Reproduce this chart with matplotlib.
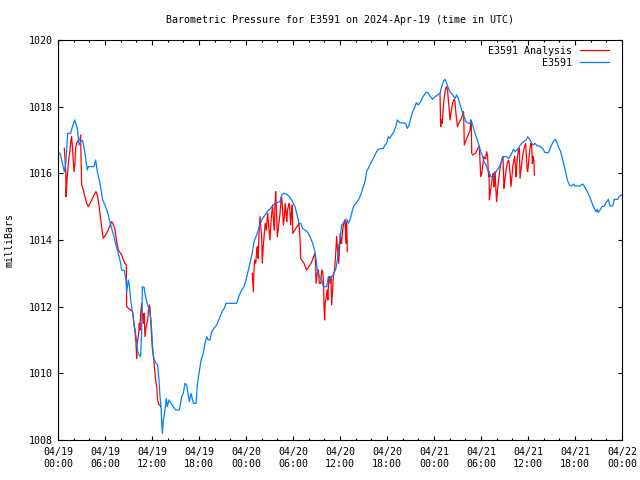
import numpy as np
import matplotlib
matplotlib.use("Agg")
import matplotlib.pyplot as plt
from matplotlib.ticker import MultipleLocator, FixedLocator

# ---------------- data (hours since 2024-04-19 00:00 UTC, millibars) ----------------
obs_hours = [0.0, 0.26, 0.51, 0.81, 1.02, 1.23, 1.6, 1.85, 2.13, 2.47, 2.68, 2.89, 3.15, 3.45, 3.74, 3.87,
             4.6, 4.81, 5.02, 5.36, 5.7, 6.0, 6.43, 6.72, 7.15, 7.4, 7.7, 8.0, 8.13, 8.47, 8.68, 8.77,
             8.98, 9.1, 9.28, 9.53, 9.74, 9.87, 10.04, 10.17, 10.38, 10.55, 10.68, 10.77, 10.98, 11.1,
             11.32, 11.53, 11.66, 11.87, 12.0, 12.17, 12.3, 12.51, 12.72, 12.89, 13.02, 13.15, 13.23,
             13.32, 13.45, 13.66, 13.83, 13.96, 14.17, 14.43, 14.72, 15.02, 15.49, 15.79, 16.0, 16.21,
             16.43, 16.64, 16.77, 16.98, 17.28, 17.62, 17.79, 18.0, 18.26, 18.55, 18.77, 18.98, 19.19,
             19.4, 19.62, 19.91, 20.26, 20.51, 20.77, 20.98, 21.23, 21.45, 22.81, 23.15, 23.45, 23.74,
             24.0, 24.3, 24.6, 24.86, 25.02, 25.36, 25.7, 26.0, 26.43, 26.85, 27.06, 27.28, 27.7, 28.34,
             28.55, 28.85, 29.19, 29.53, 29.83, 30.26, 30.47, 30.77, 30.98, 31.23, 31.53, 31.83, 32.17,
             32.51, 32.81, 32.94, 33.11, 33.36, 33.66, 33.87, 34.3, 34.51, 34.72, 34.94, 35.23, 35.49,
             35.66, 35.83, 36.09, 36.21, 36.43, 36.64, 36.85, 37.06, 37.28, 37.49, 37.7, 38.04, 38.34,
             38.64, 38.9, 39.19, 39.4, 39.62, 39.91, 40.26, 40.47, 40.77, 41.02, 41.53, 41.74, 41.96,
             42.17, 42.35, 42.6, 42.89, 43.11, 43.32, 43.62, 44.38, 44.6, 44.81, 45.02, 45.23, 45.57,
             45.74, 46.0, 46.3, 46.6, 46.98, 47.19, 47.49, 47.83, 48.13, 48.77, 48.98, 49.19, 49.4,
             49.62, 49.83, 50.04, 50.38, 50.68, 50.9, 51.1, 51.4, 51.74, 52.09, 52.38, 52.6, 52.72,
             52.94, 53.23, 53.53, 53.79, 53.96, 54.22, 54.38, 54.64, 54.85, 55.06, 55.28, 55.57, 55.79,
             56.08, 56.34, 56.64, 56.85, 57.28, 57.49, 57.7, 57.92, 58.13, 58.34, 58.64, 58.89, 59.19,
             59.49, 59.74, 59.96, 60.26, 60.47, 60.68, 60.89, 61.19, 61.45, 61.87, 62.17, 62.6, 62.91,
             63.15, 63.45, 63.66, 63.87, 64.17, 64.43, 64.64, 64.85, 65.02, 65.28, 65.58, 65.79, 66.0,
             66.64, 66.98, 67.28, 67.57, 67.83, 68.04, 68.26, 68.47, 68.68, 68.85, 68.94, 69.19, 69.45,
             69.74, 69.96, 70.26, 70.47, 70.81, 71.02, 71.45, 71.66, 72.0]
obs_pressure = [1016.6, 1016.6, 1016.35, 1016.05, 1016.35, 1017.2, 1017.2, 1017.4, 1017.6, 1017.35, 1016.85,
                1016.95, 1016.98, 1016.6, 1016.1, 1016.2, 1016.2, 1016.4, 1016.05, 1015.7, 1015.2, 1015.05,
                1014.75, 1014.45, 1014.1, 1013.85, 1013.6, 1013.3, 1013.1, 1013.08, 1012.8, 1012.45, 1012.8,
                1012.65, 1012.2, 1011.8, 1011.4, 1011.3, 1010.9, 1010.65, 1010.55, 1010.5, 1011.3, 1012.6,
                1012.58, 1012.4, 1012.15, 1012.0, 1011.9, 1011.6, 1011.1, 1010.5, 1010.4, 1010.3, 1010.25,
                1009.8, 1009.3, 1009.05, 1008.55, 1008.2, 1008.6, 1008.9, 1009.25, 1009.0, 1009.2, 1009.1,
                1009.0, 1008.9, 1008.9, 1009.3, 1009.4, 1009.7, 1009.65, 1009.35, 1009.15, 1009.4, 1009.1,
                1009.1, 1009.65, 1010.0, 1010.4, 1010.6, 1010.9, 1011.1, 1011.0, 1011.0, 1011.25, 1011.35,
                1011.45, 1011.6, 1011.75, 1011.87, 1011.95, 1012.1, 1012.1, 1012.35, 1012.5, 1012.6, 1012.8,
                1013.1, 1013.4, 1013.7, 1013.95, 1014.15, 1014.4, 1014.6, 1014.75, 1014.9, 1014.92, 1015.0,
                1015.1, 1015.15, 1015.35, 1015.4, 1015.37, 1015.3, 1015.2, 1015.0, 1014.8, 1014.5, 1014.5,
                1014.35, 1014.3, 1014.25, 1014.1, 1013.9, 1013.65, 1013.4, 1013.1, 1012.9, 1012.8, 1012.6,
                1012.6, 1012.9, 1012.8, 1012.9, 1013.0, 1013.15, 1013.4, 1013.8, 1014.2, 1014.45, 1014.5,
                1014.6, 1014.62, 1014.5, 1014.6, 1014.8, 1015.0, 1015.1, 1015.2, 1015.35, 1015.55, 1015.75,
                1016.05, 1016.15, 1016.3, 1016.45, 1016.55, 1016.7, 1016.73, 1016.75, 1016.85, 1016.9,
                1017.1, 1017.05, 1017.15, 1017.25, 1017.4, 1017.6, 1017.52, 1017.5, 1017.35, 1017.45,
                1017.65, 1017.82, 1018.0, 1018.12, 1018.05, 1018.15, 1018.3, 1018.43, 1018.43, 1018.32,
                1018.22, 1018.3, 1018.4, 1018.6, 1018.75, 1018.82, 1018.7, 1018.55, 1018.45, 1018.35,
                1018.25, 1018.35, 1018.25, 1018.0, 1017.75, 1017.55, 1017.5, 1017.5, 1017.6, 1017.45,
                1017.2, 1017.0, 1016.8, 1016.65, 1016.5, 1016.35, 1016.25, 1016.1, 1016.0, 1015.9, 1015.85,
                1016.0, 1016.1, 1016.2, 1016.35, 1016.5, 1016.5, 1016.45, 1016.5, 1016.6, 1016.72, 1016.65,
                1016.72, 1016.8, 1016.9, 1016.95, 1017.0, 1017.1, 1017.0, 1016.9, 1016.85, 1016.9, 1016.82,
                1016.82, 1016.75, 1016.62, 1016.62, 1016.8, 1016.92, 1017.02, 1016.95, 1016.8, 1016.65,
                1016.4, 1016.2, 1016.0, 1015.8, 1015.65, 1015.62, 1015.68, 1015.62, 1015.62, 1015.68,
                1015.58, 1015.45, 1015.32, 1015.2, 1015.05, 1014.95, 1014.85, 1014.92, 1014.82, 1014.9,
                1015.0, 1015.02, 1015.12, 1015.22, 1015.02, 1015.02, 1015.22, 1015.22, 1015.32, 1015.35]

# analysis series, three separate runs (NaN breaks the line between them)
ana_hours = [0.81, 1.0, 1.02, 1.15, 1.32, 1.53, 1.65, 1.74, 1.85, 2.04, 2.15, 2.25, 2.38, 2.6, 2.8, 2.89,
             2.94, 3.02, 3.23, 3.45, 3.66, 3.87, 4.3, 4.6, 4.85, 5.02, 5.2, 5.36, 5.57, 5.7, 5.79, 6.21,
             6.72, 6.85, 7.0, 7.28, 7.49, 7.7, 7.85, 8.13, 8.34, 8.55, 8.72, 8.77, 9.0, 9.28, 9.53, 9.8,
             9.96, 10.04, 10.1, 10.3, 10.38, 10.45, 10.55, 10.68, 10.8, 10.9, 11.0, 11.1, 11.25, 11.45,
             11.55, 11.66, 11.75, 11.87, 11.96, 12.04, 12.2, 12.3, 12.47, 12.6, 12.72, 12.89, 13.02, 13.1,
             np.nan,
             24.8, 24.94, 25.0, 25.1, 25.25, 25.36, 25.45, 25.55, 25.66, 25.79, 25.9, 26.0, 26.08, 26.2,
             26.34, 26.45, 26.6, 26.65, 26.77, 26.9, 27.06, 27.15, 27.28, 27.4, 27.5, 27.62, 27.7, 27.79,
             27.9, 28.0, 28.15, 28.3, 28.45, 28.55, 28.65, 28.77, 28.9, 29.0, 29.12, 29.2, 29.3, 29.45,
             29.53, 29.62, 29.7, 29.8, 29.91, 29.96, 30.5, 30.77, 30.9, 30.98, 31.4, 31.75, 32.3, 32.81,
             32.9, 32.94, 33.1, 33.25, 33.36, 33.55, 33.66, 33.8, 33.9, 33.96, 34.04, 34.1, 34.25, 34.35,
             34.45, 34.55, 34.64, 34.75, 34.85, 34.94, 35.05, 35.15, 35.3, 35.4, 35.5, 35.57, 35.65, 35.75,
             35.83, 35.95, 36.05, 36.12, 36.21, 36.3, 36.43, 36.55, 36.65, 36.75, 36.85, 36.94,
             np.nan,
             48.77, 48.85, 48.95, 49.05, 49.19, 49.3, 49.49, 49.62, 49.75, 49.83, 49.95, 50.04, 50.2,
             50.38, 50.55, 50.65, 50.8, 51.0, 51.15, 51.4, 51.66, 51.78, 51.82, 51.87, 52.1, 52.45, 52.6,
             52.72, 52.77, 52.81, 52.94, 53.3, 53.6, 53.79, 53.87, 53.96, 54.1, 54.25, 54.38, 54.5, 54.6,
             54.72, 54.85, 54.92, 54.98, 55.04, 55.07, 55.2, 55.35, 55.45, 55.57, 55.65, 55.72, 55.79,
             55.9, 56.0, 56.1, 56.25, 56.4, 56.5, 56.7, 56.8, 56.88, 56.94, 57.05, 57.2, 57.35, 57.5,
             57.6, 57.75, 57.83, 57.95, 58.05, 58.2, 58.3, 58.4, 58.47, 58.55, 58.65, 58.78, 58.9, 58.94,
             58.98, 59.1, 59.25, 59.4, 59.55, 59.7, 59.8, 59.9, 59.96, 60.1, 60.25, 60.35, 60.45, 60.5,
             60.55, 60.65, 60.75, 60.81]
ana_pressure = [1016.75, 1016.0, 1015.3, 1015.8, 1016.3, 1016.7, 1017.0, 1017.1, 1016.75, 1016.05, 1016.25,
                1016.75, 1016.9, 1017.0, 1017.0, 1017.15, 1016.45, 1015.65, 1015.5, 1015.3, 1015.1, 1015.0,
                1015.2, 1015.35, 1015.45, 1015.35, 1015.1, 1014.8, 1014.4, 1014.15, 1014.05, 1014.2, 1014.48,
                1014.55, 1014.5, 1014.3, 1013.95, 1013.7, 1013.65, 1013.55, 1013.4, 1013.3, 1013.25, 1012.0,
                1011.95, 1011.9, 1011.85, 1011.3, 1010.9, 1010.45, 1010.9, 1011.2, 1011.5, 1011.3, 1011.8,
                1012.1, 1011.7, 1011.5, 1011.8, 1011.1, 1011.4, 1011.6, 1011.9, 1012.05, 1011.95, 1011.4,
                1011.05, 1010.75, 1010.5, 1010.2, 1009.8, 1009.6, 1009.2, 1009.05, 1009.05, 1009.0,
                np.nan,
                1013.0, 1012.45, 1013.0, 1013.4, 1013.3, 1013.7, 1013.8, 1013.45, 1014.2, 1014.7, 1014.4,
                1014.1, 1013.3, 1013.8, 1014.2, 1014.5, 1014.3, 1014.5, 1014.8, 1014.4, 1014.0, 1014.4,
                1014.8, 1015.05, 1014.6, 1014.3, 1015.05, 1015.45, 1014.8, 1014.1, 1014.4, 1014.7, 1015.1,
                1015.3, 1015.0, 1014.45, 1014.7, 1015.1, 1014.8, 1014.55, 1014.9, 1015.05, 1015.1, 1014.8,
                1014.45, 1014.8, 1015.05, 1014.2, 1014.4, 1014.5, 1014.0, 1013.45, 1013.3, 1013.1, 1013.3,
                1013.6, 1013.2, 1012.7, 1013.0, 1013.1, 1012.7, 1012.7, 1013.1, 1013.05, 1012.7, 1012.0,
                1011.6, 1012.1, 1012.3, 1012.5, 1012.2, 1012.8, 1012.9, 1012.7, 1012.9, 1012.05, 1012.5,
                1012.9, 1013.1, 1013.4, 1013.8, 1014.1, 1013.8, 1013.5, 1013.3, 1013.8, 1014.2, 1013.9,
                1013.9, 1014.2, 1014.45, 1014.55, 1014.6, 1013.9, 1014.55, 1013.65,
                np.nan,
                1018.4, 1017.4, 1017.6, 1017.5, 1018.0, 1018.25, 1018.55, 1018.6, 1018.45, 1018.2, 1017.9,
                1017.6, 1017.85, 1018.1, 1018.22, 1018.2, 1017.8, 1017.4, 1017.5, 1017.6, 1017.75, 1017.85,
                1017.4, 1016.85, 1017.0, 1017.2, 1017.3, 1017.6, 1017.4, 1016.6, 1016.55, 1016.6, 1016.75,
                1016.82, 1016.4, 1015.9, 1016.0, 1016.3, 1016.5, 1016.45, 1016.45, 1016.65, 1016.5, 1016.1,
                1015.9, 1016.05, 1015.2, 1015.45, 1015.7, 1015.9, 1016.0, 1015.6, 1015.9, 1016.05, 1015.5,
                1015.15, 1015.5, 1015.8, 1016.1, 1016.25, 1016.45, 1016.5, 1015.9, 1015.55, 1015.8, 1016.1,
                1016.3, 1016.4, 1016.3, 1015.9, 1015.6, 1015.9, 1016.2, 1016.4, 1016.5, 1016.2, 1015.9,
                1016.2, 1016.5, 1016.7, 1016.75, 1016.3, 1015.85, 1016.1, 1016.4, 1016.65, 1016.8, 1016.9,
                1016.5, 1016.1, 1016.05, 1016.4, 1016.75, 1016.9, 1016.9, 1016.7, 1016.3, 1016.5, 1016.4,
                1015.95]

x_tick_hours = [0, 6, 12, 18, 24, 30, 36, 42, 48, 54, 60, 66, 72]
x_tick_labels = ["04/19\n00:00", "04/19\n06:00", "04/19\n12:00", "04/19\n18:00",
                 "04/20\n00:00", "04/20\n06:00", "04/20\n12:00", "04/20\n18:00",
                 "04/21\n00:00", "04/21\n06:00", "04/21\n12:00", "04/21\n18:00",
                 "04/22\n00:00"]
y_ticks = [1008, 1010, 1012, 1014, 1016, 1018, 1020]
title = "Barometric Pressure for E3591 on 2024-Apr-19 (time in UTC)"

# ---------------- figure ----------------
plt.rcParams['font.family'] = ['DejaVu Sans Mono']
FS = 7.2

fig = plt.figure(figsize=(6.4, 4.8), dpi=100)
ax = fig.add_axes([58 / 640, 40 / 480, 564 / 640, 400 / 480])

ax.plot(ana_hours, ana_pressure, color="#ff0000", lw=0.9, label="E3591 Analysis")
ax.plot(obs_hours, obs_pressure, color="#0080ff", lw=0.9, label="E3591")

ax.set_xlim(0, 72)
ax.set_ylim(1008, 1020)
ax.xaxis.set_major_locator(FixedLocator(x_tick_hours))
ax.set_xticklabels(x_tick_labels, fontsize=FS, linespacing=1.25)
ax.xaxis.set_minor_locator(MultipleLocator(2))
ax.set_yticks(y_ticks)
ax.set_yticklabels([str(v) for v in y_ticks], fontsize=FS)

ax.tick_params(axis="both", which="major", direction="in", length=4.5 * 0.72,
               width=0.8, top=True, right=True)
ax.tick_params(axis="x", which="major", pad=5)
ax.tick_params(axis="y", which="major", pad=4)
ax.tick_params(axis="x", which="minor", direction="in", length=2.3 * 0.72,
               width=0.8, top=True, bottom=True)
for s in ax.spines.values():
    s.set_linewidth(0.8)

ax.set_title(title, fontsize=FS, pad=12)
fig.text(10 / 640, 0.5, "milliBars", rotation=90, fontsize=FS, ha="center", va="center")

leg = ax.legend(loc="upper right", bbox_to_anchor=(0.977, 0.986), markerfirst=False,
                frameon=False, fontsize=FS, handlelength=2.9, handletextpad=0.8,
                borderpad=0, borderaxespad=0, labelspacing=0.24)

fig.savefig("out.png", dpi=100)
